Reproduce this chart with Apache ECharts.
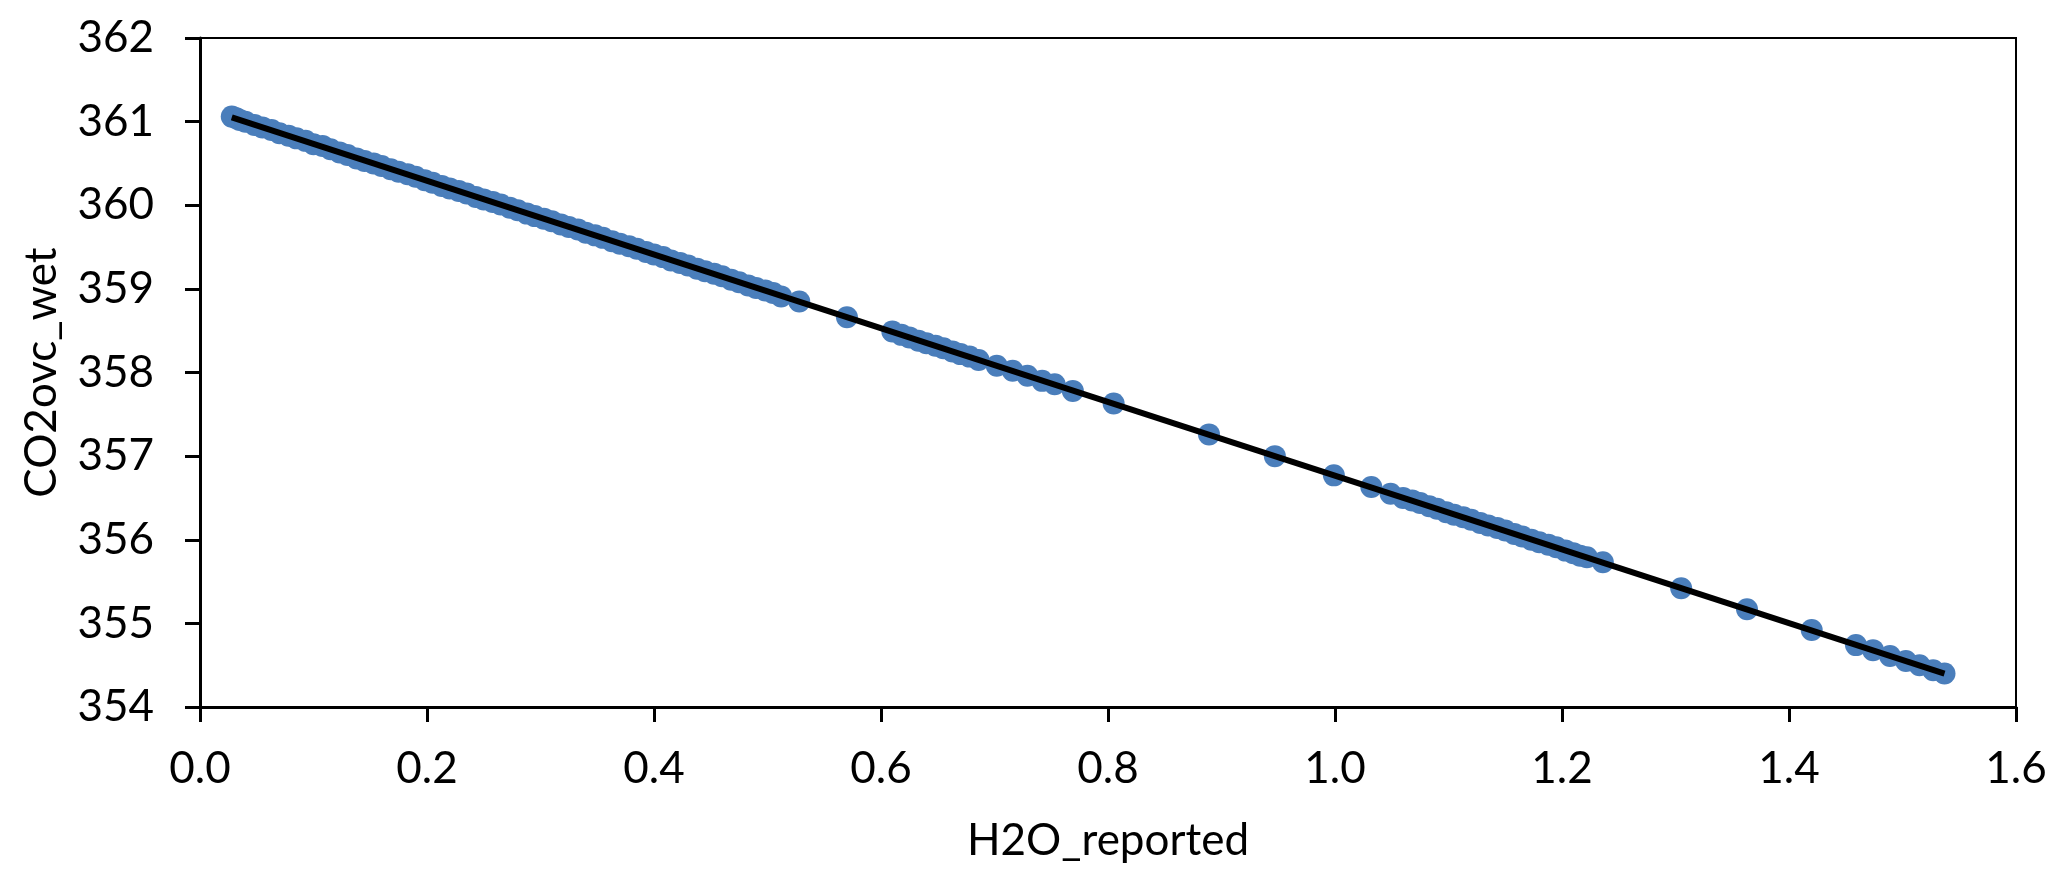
<!DOCTYPE html>
<html>
<head>
<meta charset="utf-8">
<script src="https://cdn.jsdelivr.net/npm/echarts@6/dist/echarts.min.js"></script>
<style>
    html, body { margin: 0; padding: 0; background: #fff; }
    #chart { width: 2067px; height: 889px; }
</style>
</head>
<body>
<div id="chart"></div>
<script>
// H2O_reported (x) readings
const h2o = [
    0.028, 0.032, 0.035, 0.040, 0.048, 0.055, 0.063, 0.070, 0.078, 0.085,
    0.093, 0.100, 0.108, 0.115, 0.123, 0.130, 0.138, 0.145, 0.153, 0.160,
    0.168, 0.175, 0.183, 0.190, 0.198, 0.205, 0.213, 0.220, 0.228, 0.235,
    0.243, 0.250, 0.258, 0.265, 0.273, 0.280, 0.288, 0.295, 0.303, 0.310,
    0.318, 0.325, 0.333, 0.340, 0.348, 0.355, 0.363, 0.370, 0.378, 0.385,
    0.393, 0.400, 0.408, 0.415, 0.423, 0.430, 0.438, 0.445, 0.453, 0.460,
    0.468, 0.475, 0.483, 0.490, 0.498, 0.505, 0.512, 0.528, 0.570, 0.610,
    0.618, 0.625, 0.633, 0.640, 0.648, 0.655, 0.663, 0.670, 0.678, 0.686,
    0.702, 0.716, 0.729, 0.742, 0.753, 0.769, 0.805, 0.889, 0.947, 0.999,
    1.032, 1.049, 1.060, 1.068, 1.075, 1.083, 1.090, 1.098, 1.105, 1.113,
    1.120, 1.128, 1.135, 1.143, 1.150, 1.158, 1.165, 1.173, 1.180, 1.188,
    1.195, 1.203, 1.210, 1.216, 1.222, 1.236, 1.305, 1.363, 1.420, 1.459,
    1.474, 1.489, 1.503, 1.515, 1.527, 1.537
];
// CO2ovc_wet (y) readings
const co2 = [
    361.06, 361.04, 361.02, 361.00, 360.96, 360.93, 360.90, 360.86, 360.83, 360.80,
    360.77, 360.73, 360.71, 360.67, 360.63, 360.60, 360.56, 360.53, 360.50, 360.47,
    360.43, 360.40, 360.37, 360.34, 360.30, 360.27, 360.23, 360.20, 360.17, 360.14,
    360.10, 360.07, 360.04, 360.01, 359.97, 359.94, 359.90, 359.87, 359.84, 359.81,
    359.77, 359.74, 359.71, 359.67, 359.64, 359.61, 359.57, 359.54, 359.51, 359.48,
    359.44, 359.41, 359.38, 359.34, 359.31, 359.28, 359.24, 359.21, 359.18, 359.15,
    359.11, 359.08, 359.04, 359.01, 358.98, 358.95, 358.91, 358.85, 358.66, 358.49,
    358.45, 358.42, 358.38, 358.35, 358.32, 358.29, 358.25, 358.22, 358.19, 358.15,
    358.08, 358.02, 357.96, 357.90, 357.86, 357.78, 357.63, 357.26, 357.00, 356.77,
    356.63, 356.55, 356.50, 356.47, 356.44, 356.40, 356.37, 356.33, 356.30, 356.27,
    356.24, 356.20, 356.17, 356.14, 356.11, 356.07, 356.04, 356.00, 355.97, 355.94,
    355.91, 355.87, 355.84, 355.81, 355.79, 355.73, 355.42, 355.17, 354.92, 354.74,
    354.68, 354.61, 354.55, 354.50, 354.44, 354.40
];
// linear trend line ends
const trendX = [0.028, 1.537];
const trendY = [361.05, 354.40];

const xTicks = { min: 0, max: 1.6, interval: 0.2 };
const yTicks = { min: 354, max: 362, interval: 1 };

const points = h2o.map((x, i) => [x, co2[i]]);
const trend = trendX.map((x, i) => [x, trendY[i]]);

const font = 'Lato, "Open Sans", sans-serif';
let myChart = echarts.init(document.getElementById('chart'));
myChart.setOption({
    backgroundColor: '#fff',
    animation: false,
    grid: {
        left: 200,
        right: 51,
        top: 38,
        bottom: 182,
        show: true,
        borderColor: '#000',
        borderWidth: 2
    },
    xAxis: {
        type: 'value',
        min: xTicks.min,
        max: xTicks.max,
        interval: xTicks.interval,
        name: 'H2O_reported',
        nameLocation: 'middle',
        nameGap: 112,
        nameTextStyle: { fontFamily: font, fontSize: 44, color: '#000' },
        axisLine: { show: true, onZero: false, lineStyle: { color: '#000', width: 3 } },
        axisTick: { show: true, length: 15, lineStyle: { color: '#000', width: 3 } },
        axisLabel: {
            margin: 40,
            fontFamily: font,
            fontSize: 44,
            color: '#000',
            formatter: v => v.toFixed(1)
        },
        splitLine: { show: false }
    },
    yAxis: {
        type: 'value',
        min: yTicks.min,
        max: yTicks.max,
        interval: yTicks.interval,
        name: 'CO2ovc_wet',
        nameLocation: 'middle',
        nameGap: 136,
        nameTextStyle: { fontFamily: font, fontSize: 44, color: '#000' },
        axisLine: { show: true, onZero: false, lineStyle: { color: '#000', width: 3 } },
        axisTick: { show: true, length: 15, lineStyle: { color: '#000', width: 3 } },
        axisLabel: {
            margin: 46,
            fontFamily: font,
            fontSize: 44,
            color: '#000'
        },
        splitLine: { show: false }
    },
    series: [
        {
            name: 'CO2ovc_wet',
            type: 'scatter',
            data: points,
            symbol: 'circle',
            symbolSize: 22,
            itemStyle: { color: '#4a7ebb', opacity: 1 }
        },
        {
            name: 'trend',
            type: 'line',
            data: trend,
            symbol: 'none',
            z: 5,
            lineStyle: { color: '#000', width: 6 }
        }
    ]
});
</script>
</body>
</html>
